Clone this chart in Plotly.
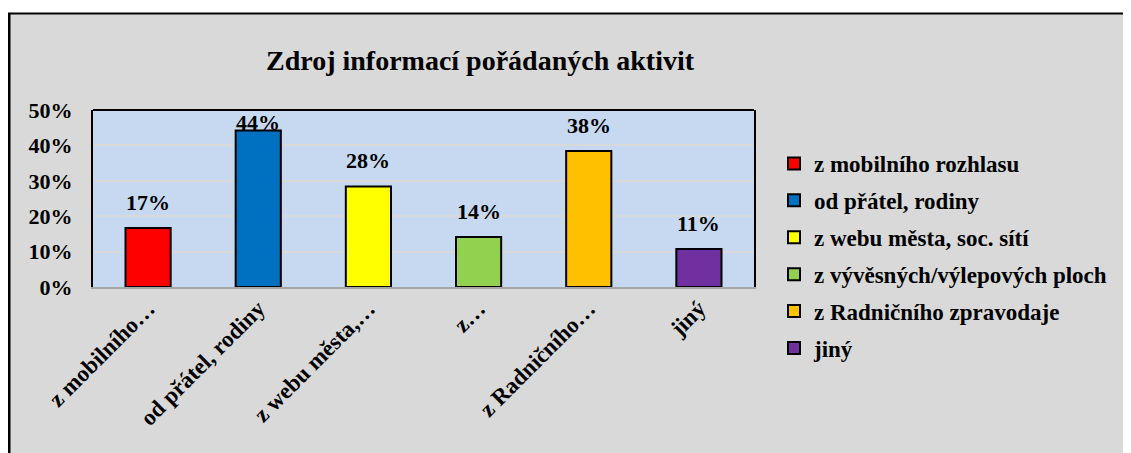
import plotly.graph_objects as go

categories = [
    "z mobilního rozhlasu",
    "od přátel, rodiny",
    "z webu města, soc. sítí",
    "z vývěsných/výlepových ploch",
    "z Radničního zpravodaje",
    "jiný",
]
tick_labels = ["z mobilního…", "od přátel, rodiny", "z webu města,…", "z…", "z Radničního…", "jiný"]
values = [0.167, 0.442, 0.284, 0.141, 0.384, 0.107]
colors = ["#FF0000", "#0070C0", "#FFFF00", "#92D050", "#FFC000", "#7030A0"]

# page body has an 8px margin, so the figure sits 8px in from the window corner
OFF = 8
W, H = 1131 - OFF, 453 - OFF
L, R, T, B = 85, 377, 102, 166
PW, PH = W - L - R, H - T - B


def px(x):
    # screen x -> paper
    return (x - OFF - L) / PW


def py(y):
    # screen y -> paper
    return (H - B - (y - OFF)) / PH


font = dict(family="Liberation Serif", weight="bold", color="black")

fig = go.Figure()

for i, (cat, v, c) in enumerate(zip(categories, values, colors)):
    fig.add_trace(
        go.Bar(
            x=[cat],
            y=[v],
            name=cat,
            legendgroup=str(i),
            width=0.41,
            marker=dict(color=c, line=dict(color="black", width=2)),
        )
    )

# data labels above bars (the top one is kept inside the plot area)
for cat, v in zip(categories, values):
    fig.add_annotation(
        x=cat,
        y=min(v, 0.393),
        yanchor="bottom",
        yshift=11,
        text="{:.0%}".format(v),
        showarrow=False,
        font=dict(font, size=22),
    )

shapes = [
    # white strip above the chart frame
    dict(type="rect", xref="paper", yref="paper", x0=px(0), x1=px(1140), y0=py(13), y1=py(0),
         fillcolor="white", line=dict(width=0), layer="below"),
    dict(type="line", xref="paper", yref="paper", x0=px(8), x1=px(1140), y0=py(13.5), y1=py(13.5),
         line=dict(color="black", width=2)),
    dict(type="line", xref="paper", yref="paper", x0=px(9), x1=px(9), y0=py(13), y1=py(460),
         line=dict(color="black", width=3)),
    # top border of plot area
    dict(type="line", xref="paper", yref="paper", x0=0, x1=1, y0=1, y1=1,
         line=dict(color="black", width=2)),
]

fig.update_layout(
    width=W,
    height=H,
    margin=dict(l=L, r=R, t=T, b=B, autoexpand=False),
    paper_bgcolor="#D9D9D9",
    plot_bgcolor="#C6D9F1",
    barmode="overlay",
    title=dict(
        text="Zdroj informací pořádaných aktivit",
        font=dict(font, size=28),
        xref="paper",
        x=px(480),
        xanchor="center",
        yref="container",
        y=1 - (60 - OFF) / H,
        yanchor="middle",
    ),
    xaxis=dict(
        tickvals=categories,
        ticktext=tick_labels,
        tickangle=-45,
        tickfont=dict(font, size=23),
        ticklabelstandoff=-3,
        showline=True,
        linecolor="#A6A6A6",
        linewidth=2,
        showgrid=False,
    ),
    yaxis=dict(
        range=[0, 0.5],
        dtick=0.1,
        tickformat=".0%",
        tickfont=dict(font, size=22),
        ticklabelstandoff=14,
        showline=True,
        mirror=True,
        linecolor="black",
        linewidth=2,
        gridcolor="#D9D9D9",
        gridwidth=1.5,
        zeroline=False,
    ),
    legend=dict(
        x=px(774),
        xanchor="left",
        y=py(142),
        yanchor="top",
        font=dict(font, size=23),
        bgcolor="rgba(0,0,0,0)",
        tracegroupgap=4,
        maxheight=400,
    ),
    shapes=shapes,
)

fig.write_html("out.html")
